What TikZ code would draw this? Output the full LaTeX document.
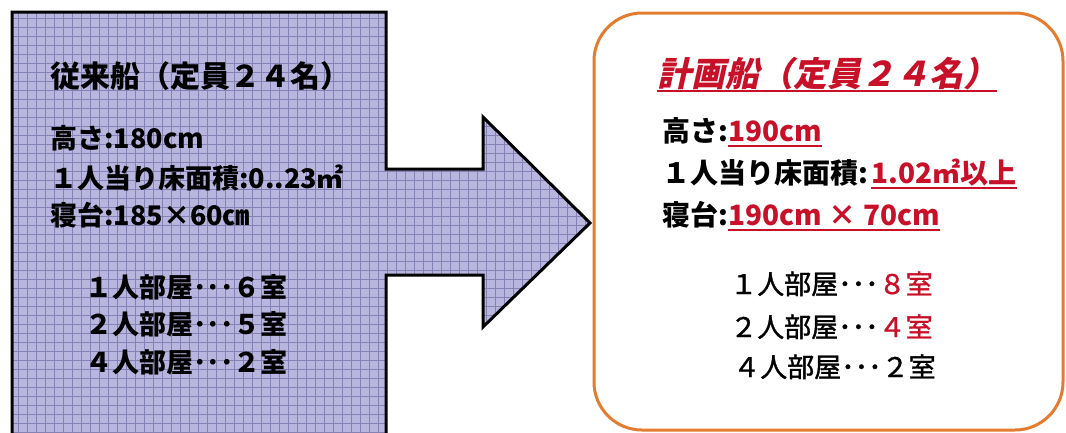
\documentclass[tikz,border=0pt]{standalone}
\usepackage{fontspec}
\setmainfont{Noto Sans CJK JP}
\newfontfamily\jpslant[FakeSlant=0.22]{Noto Sans CJK JP}
\newfontfamily\jpmed[FakeBold=1.2]{Noto Sans CJK JP}
\definecolor{lav}{RGB}{184,182,222}
\definecolor{lavline}{RGB}{132,130,180}
\definecolor{boxorange}{RGB}{228,124,48}
\definecolor{redtxt}{RGB}{200,16,40}
\tikzset{
  txt/.style={anchor=base west, inner sep=0pt, font=\bfseries\fontsize{27}{27}\selectfont},
  rtxt/.style={anchor=base west, inner sep=0pt, font=\bfseries\fontsize{28}{28}\selectfont},
  red/.style={text=redtxt},
  uline/.style={draw=redtxt, line width=1.5pt},
  room/.style={anchor=base west, inner sep=0pt, font=\bfseries\fontsize{27}{27}\selectfont},
  rroom/.style={anchor=base west, inner sep=0pt, font=\jpmed\fontsize{27}{27}\selectfont},
}
\begin{document}
\begin{tikzpicture}[x=1pt,y=-1pt]
\useasboundingbox (0,0) rectangle (1066,432);
\clip (0,0) rectangle (1066,432);
% left arrow shape with grid fill
\begin{scope}
\clip (12,12) -- (386,12) -- (386,169) -- (483,169) -- (483,117) -- (590,223) -- (483,327) -- (483,275) -- (386,275) -- (386,445) -- (12,445) -- cycle;
\fill[lav] (0,0) rectangle (600,445);
\draw[lavline, line width=0.7pt, step=9pt] (0,0) grid (600,445);
\end{scope}
\draw[black, line width=3pt, line join=miter] (12,12) -- (386,12) -- (386,169) -- (483,169) -- (483,117) -- (590,223) -- (483,327) -- (483,275) -- (386,275) -- (386,445) -- (12,445) -- cycle;
% right rounded box
\draw[boxorange, line width=3pt, rounded corners=48pt, fill=white] (594,13) rectangle (1063,430);

% left texts
\node[anchor=base west, inner sep=0pt, font=\bfseries\fontsize{30}{30}\selectfont] (lt) at (50,87) {従来船（定員２４名）};
\node[txt] (lh) at (50,148) {高さ:180cm};
\node[txt] (la) at (50,188) {１人当り床面積:0..23㎡};
\node[txt] (lb) at (50,225) {寝台:185×60㎝};
\node[room] (lr1) at (85,297) {１人部屋･･･６室};
\node[room] (lr2) at (85,334) {２人部屋･･･５室};
\node[room] (lr3) at (85,372) {４人部屋･･･２室};

% right texts
\node[anchor=base west, inner sep=0pt, text=redtxt, font=\jpslant\bfseries\fontsize{34}{34}\selectfont] (rt) at (657,86) {計画船（定員２４名）};
\draw[uline] ([yshift=-5pt]rt.base west) -- ([yshift=-5pt]rt.base east);

\node[rtxt] (rh) at (662,141) {高さ:};
\node[rtxt, red, anchor=base west] (rhv) at (rh.base east) {190cm};
\draw[uline] ([yshift=-5pt]rhv.base west) -- ([yshift=-5pt]rhv.base east);

\node[rtxt] (ra) at (662,183) {１人当り床面積:};
\node[rtxt, red, anchor=base west] (rav) at ([xshift=3pt]ra.base east) {1.02㎡以上};
\draw[uline] ([yshift=-5pt]rav.base west) -- ([yshift=-5pt]rav.base east);

\node[rtxt] (rb) at (662,225) {寝台:};
\node[rtxt, red, anchor=base west] (rbv) at (rb.base east) {190cm × 70cm};
\draw[uline] ([yshift=-5pt]rbv.base west) -- ([yshift=-5pt]rbv.base east);

\node[rroom] (rr1) at (730,294) {１人部屋･･･\textcolor{redtxt}{８室}};
\node[rroom] (rr2) at (730,337) {２人部屋･･･\textcolor{redtxt}{４室}};
\node[rroom] (rr3) at (733,377) {４人部屋･･･２室};
\end{tikzpicture}
\end{document}
